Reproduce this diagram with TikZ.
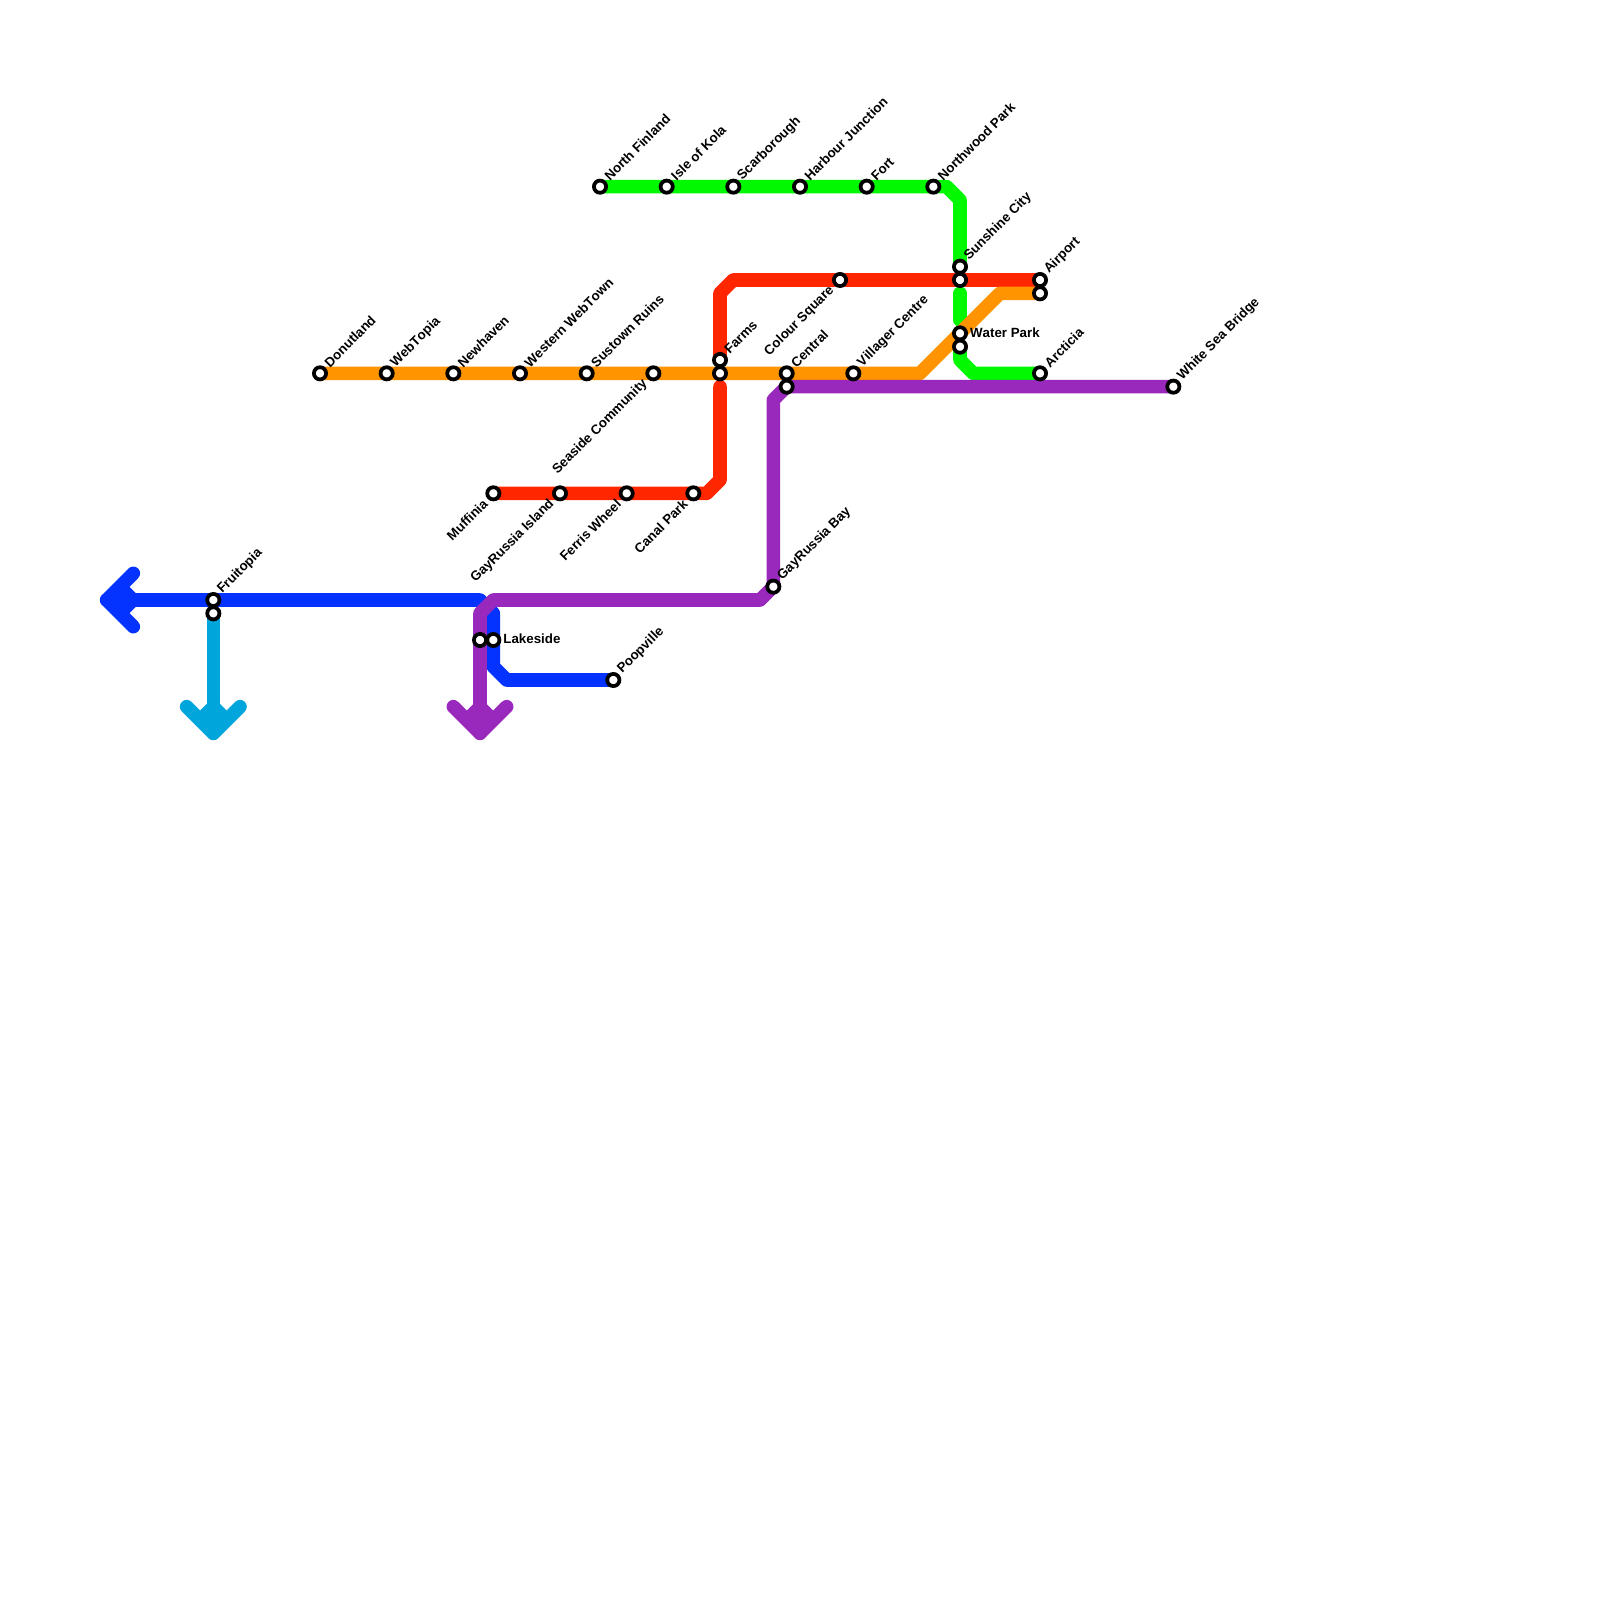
\documentclass[tikz,border=0pt]{standalone}
\usepackage{fontspec}
\setmainfont[Kerning=Off]{Liberation Sans}
\usetikzlibrary{backgrounds}
\definecolor{lblue}{HTML}{0433FF}
\definecolor{lcyan}{HTML}{00A5DB}
\definecolor{lgreen}{HTML}{00F900}
\definecolor{lred}{HTML}{FF2600}
\definecolor{lorange}{HTML}{FF9300}
\definecolor{lpurple}{HTML}{9929BD}
\tikzset{
  stop/.style={circle,draw=black,fill=white,line width=1.6pt,minimum size=5.2pt,inner sep=0pt,outer sep=0pt},
  route/.style={line width=5.8pt,line cap=round,line join=round},
  ttext/.style={font=\fontsize{5.69pt}{6.8pt}\selectfont\bfseries,inner sep=0pt,text=black},
  ur/.style={ttext,rotate=45,anchor=west,xshift=4.4pt,yshift=0.6pt},
  dl/.style={ttext,rotate=45,anchor=east,xshift=-4.85pt,yshift=-0.15pt},
  rt/.style={ttext,anchor=west,xshift=4.1pt,yshift=0.4pt}
}
\begin{document}
\begin{tikzpicture}[x=0.2cm,y=-0.2cm]
\useasboundingbox (0,0) rectangle (120,120);
% stations with labels
\node[stop] (don) at (24,28) {}; \node[ur] (don-l) at (don.center) {Donutland};
\node[stop] (web) at (29,28) {}; \node[ur] (web-l) at (web.center) {WebTopia};
\node[stop] (new) at (34,28) {}; \node[ur] (new-l) at (new.center) {Newhaven};
\node[stop] (wwt) at (39,28) {}; \node[ur] (wwt-l) at (wwt.center) {Western WebTown};
\node[stop] (sus) at (44,28) {}; \node[ur] (sus-l) at (sus.center) {Sustown Ruins};
\node[stop] (sea) at (49,28) {}; \node[dl] (sea-l) at (sea.center) {Seaside Community};
\node[stop] (far2) at (54,28) {};
\node[stop] (far) at (54,27) {}; \node[ur] (far-l) at (far.center) {Farms};
\node[stop] (cen) at (59,28) {}; \node[ur] (cen-l) at (cen.center) {Central};
\node[stop] (cen2) at (59,29) {};
\node[stop] (vil) at (64,28) {}; \node[ur] (vil-l) at (vil.center) {Villager Centre};
\node[stop] (wat) at (72,25) {}; \node[rt] (wat-l) at (wat.center) {Water Park};
\node[stop] (wat2) at (72,26) {};
\node[stop] (air) at (78,21) {}; \node[ur] (air-l) at (air.center) {Airport};
\node[stop] (air2) at (78,22) {};
\node[stop] (nfi) at (45,14) {}; \node[ur] (nfi-l) at (nfi.center) {North Finland};
\node[stop] (iso) at (50,14) {}; \node[ur] (iso-l) at (iso.center) {Isle of Kola};
\node[stop] (sca) at (55,14) {}; \node[ur] (sca-l) at (sca.center) {Scarborough};
\node[stop] (har) at (60,14) {}; \node[ur] (har-l) at (har.center) {Harbour Junction};
\node[stop] (for) at (65,14) {}; \node[ur] (for-l) at (for.center) {Fort};
\node[stop] (nor) at (70,14) {}; \node[ur] (nor-l) at (nor.center) {Northwood Park};
\node[stop] (sun) at (72,20) {}; \node[ur] (sun-l) at (sun.center) {Sunshine City};
\node[stop] (sun2) at (72,21) {};
\node[stop] (col) at (63,21) {}; \node[dl] (col-l) at (col.center) {Colour Square};
\node[stop] (arc) at (78,28) {}; \node[ur] (arc-l) at (arc.center) {Arcticia};
\node[stop] (whi) at (88,29) {}; \node[ur] (whi-l) at (whi.center) {White Sea Bridge};
\node[stop] (muf) at (37,37) {}; \node[dl] (muf-l) at (muf.center) {Muffinia};
\node[stop] (gri) at (42,37) {}; \node[dl] (gri-l) at (gri.center) {GayRussia Island};
\node[stop] (fer) at (47,37) {}; \node[dl] (fer-l) at (fer.center) {Ferris Wheel};
\node[stop] (can) at (52,37) {}; \node[dl] (can-l) at (can.center) {Canal Park};
\node[stop] (grb) at (58,44) {}; \node[ur] (grb-l) at (grb.center) {GayRussia Bay};
\node[stop] (fru) at (16,45) {}; \node[ur] (fru-l) at (fru.center) {Fruitopia};
\node[stop] (fru2) at (16,46) {};
\node[stop] (lak2) at (36,48) {};
\node[stop] (lak) at (37,48) {}; \node[rt] (lak-l) at (lak.center) {Lakeside};
\node[stop] (poo) at (46,51) {}; \node[ur] (poo-l) at (poo.center) {Poopville};
% free ends of the routes
\coordinate (bluetip) at (8,45);
\coordinate (cyantip) at (16,55);
\coordinate (purptip) at (36,55);
\begin{scope}[on background layer]
% blue
\fill[lblue] (bluetip) -- (9.7,44) -- (10.7,45) -- (9.7,46) -- cycle;
\draw[route,lblue] (10,43) -- (bluetip) -- (10,47);
\draw[route,lblue] (bluetip) -- (fru.center) -- (36,45) -- (37,46) -- (lak.center) -- (37,50) -- (38,51) -- (poo.center);
% cyan
\fill[lcyan] (cyantip) -- (15,53.3) -- (16,52.3) -- (17,53.3) -- cycle;
\draw[route,lcyan] (fru2.center) -- (cyantip);
\draw[route,lcyan] (14,53) -- (cyantip) -- (18,53);
% green
\draw[route,lgreen] (nfi.center) -- (iso.center) -- (sca.center) -- (har.center) -- (for.center) -- (nor.center) -- (71,14) -- (72,15) -- (sun.center);
\draw[route,lgreen] (72,22) -- (72,24);
\draw[route,lgreen] (wat2.center) -- (72,27) -- (73,28) -- (arc.center);
% red
\draw[route,lred] (muf.center) -- (gri.center) -- (fer.center) -- (can.center) -- (53,37) -- (54,36) -- (54,29);
\draw[route,lred] (far.center) -- (54,22) -- (55,21) -- (col.center) -- (sun2.center) -- (air.center);
% orange
\draw[route,lorange] (don.center) -- (web.center) -- (new.center) -- (wwt.center) -- (sus.center) -- (sea.center) -- (far2.center) -- (cen.center) -- (vil.center) -- (69,28) -- (wat.center) -- (75,22) -- (air2.center);
% purple
\draw[route,lpurple] (whi.center) -- (cen2.center) -- (58,30) -- (grb.center) -- (57,45) -- (37,45) -- (36,46) -- (lak2.center) -- (purptip);
\fill[lpurple] (purptip) -- (35,53.3) -- (36,52.3) -- (37,53.3) -- cycle;
\draw[route,lpurple] (34,53) -- (purptip) -- (38,53);
\end{scope}
\end{tikzpicture}
\end{document}
